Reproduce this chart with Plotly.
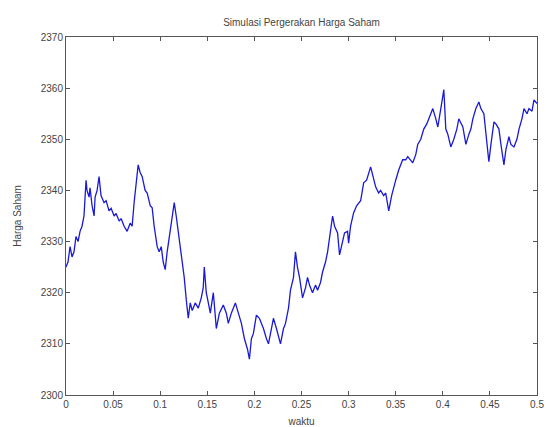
import plotly.graph_objects as go

# waktu (time) values
waktu = [
    0, 0.0021, 0.0043, 0.0064, 0.0085, 0.0106, 0.0128, 0.0149, 0.0170, 0.0191,
    0.0213, 0.0223, 0.0245, 0.0255, 0.0277, 0.0298, 0.0309, 0.0330, 0.0351, 0.0372,
    0.0404, 0.0426, 0.0457, 0.0479, 0.0511, 0.0532, 0.0564, 0.0585, 0.0617, 0.0649,
    0.0681, 0.0702, 0.0723, 0.0745, 0.0766, 0.0787, 0.0809, 0.0840, 0.0862, 0.0894,
    0.0915, 0.0936, 0.0968, 0.0989, 0.1011, 0.1032, 0.1053, 0.1074, 0.1106, 0.1128,
    0.1149, 0.1170, 0.1191, 0.1223, 0.1255, 0.1277, 0.1298, 0.1319, 0.1340, 0.1372,
    0.1404, 0.1436, 0.1457, 0.1468, 0.1489, 0.1511, 0.1532, 0.1564, 0.1596, 0.1628,
    0.1670, 0.1702, 0.1723, 0.1755, 0.1798, 0.1830, 0.1862, 0.1894, 0.1926, 0.1947,
    0.1968, 0.1989, 0.2021, 0.2053, 0.2096, 0.2128, 0.2149, 0.2181, 0.2202, 0.2234,
    0.2277, 0.2309, 0.2330, 0.2362, 0.2383, 0.2415, 0.2436, 0.2457, 0.2479, 0.2511,
    0.2543, 0.2564, 0.2585, 0.2617, 0.2649, 0.2670, 0.2702, 0.2723, 0.2755, 0.2777,
    0.2809, 0.2830, 0.2851, 0.2883, 0.2904, 0.2936, 0.2957, 0.2989, 0.3000, 0.3021,
    0.3053, 0.3085, 0.3128, 0.3160, 0.3191, 0.3234, 0.3266, 0.3287, 0.3319, 0.3340,
    0.3372, 0.3394, 0.3426, 0.3457, 0.3500, 0.3532, 0.3574, 0.3606, 0.3628, 0.3660,
    0.3681, 0.3713, 0.3734, 0.3766, 0.3798, 0.3830, 0.3851, 0.3872, 0.3894, 0.3926,
    0.3947, 0.3979, 0.4000, 0.4011, 0.4032, 0.4053, 0.4085, 0.4117, 0.4149, 0.4170,
    0.4213, 0.4245, 0.4277, 0.4298, 0.4319, 0.4351, 0.4383, 0.4404, 0.4436, 0.4457,
    0.4489, 0.4511, 0.4543, 0.4564, 0.4596, 0.4617, 0.4649, 0.4670, 0.4702, 0.4723,
    0.4755, 0.4787, 0.4809, 0.4840, 0.4862, 0.4894, 0.4915, 0.4947, 0.4968, 0.5000,
]

# harga saham (stock price) values
harga = [
    2325, 2326, 2329, 2327, 2328, 2331, 2330, 2332, 2333, 2335,
    2342, 2340, 2338.7, 2340.5, 2337, 2335, 2338.7, 2340, 2342.7, 2339,
    2337.6, 2338, 2336, 2336.5, 2335, 2335.5, 2334, 2334.5, 2333, 2332,
    2333.6, 2333, 2337.6, 2341, 2345, 2343.5, 2342.7, 2340, 2339.5, 2337,
    2336.6, 2333, 2329, 2328, 2329, 2326, 2324.5, 2328, 2332, 2334,
    2337.6, 2335, 2332, 2328, 2323, 2318.6, 2315, 2318, 2316.5, 2318,
    2317, 2319, 2321, 2325, 2320, 2318, 2316, 2320, 2313, 2316,
    2317.6, 2316, 2314, 2316, 2318, 2316, 2314, 2311, 2309, 2307,
    2311, 2312, 2315.6, 2315, 2313, 2311, 2310, 2313, 2315, 2313,
    2310, 2313, 2314, 2317, 2320.5, 2323, 2328, 2325, 2323, 2319,
    2321, 2323, 2321.5, 2320, 2321.5, 2320.5, 2322, 2324, 2326, 2328,
    2332, 2335, 2333, 2331.7, 2327.4, 2330, 2331.7, 2332, 2329.7, 2333,
    2335.6, 2337, 2338, 2341.5, 2342, 2344.6, 2342.5, 2340.7, 2339.5, 2340,
    2339, 2339.5, 2336, 2339, 2342, 2344, 2346, 2346, 2346.6, 2346,
    2345.4, 2347, 2349, 2350, 2352, 2353, 2354, 2355, 2356, 2354,
    2352.4, 2356, 2358, 2359.7, 2352, 2351, 2348.5, 2350, 2352, 2354,
    2352.4, 2349, 2351, 2352, 2354, 2356, 2357.3, 2356, 2355, 2351,
    2345.6, 2349, 2353.4, 2353, 2352, 2349, 2345, 2348, 2350.5, 2349,
    2348.5, 2350, 2352, 2354, 2356, 2355, 2356, 2355.5, 2357.7, 2357,
]

x_ticks = [0, 0.05, 0.1, 0.15, 0.2, 0.25, 0.3, 0.35, 0.4, 0.45, 0.5]
x_tick_labels = ["0", "0.05", "0.1", "0.15", "0.2", "0.25", "0.3", "0.35", "0.4", "0.45", "0.5"]
y_ticks = [2300, 2310, 2320, 2330, 2340, 2350, 2360, 2370]

font_family = "Liberation Sans, Arial, sans-serif"
text_color = "#444444"
axis_color = "#555555"

W, H = 546, 427

fig = go.Figure()
fig.add_trace(go.Scatter(
    x=waktu, y=harga, mode="lines",
    line=dict(color="rgb(25,25,215)", width=1.3),
    showlegend=False, hoverinfo="skip",
))

fig.update_layout(
    width=W, height=H,
    margin=dict(l=66, r=9, t=37, b=32),
    paper_bgcolor="white", plot_bgcolor="white",
    hovermode=False,
    font=dict(family=font_family, size=10, color=text_color),
    title=dict(
        text="Simulasi Pergerakan Harga Saham",
        x=301.5 / W, xanchor="center",
        y=1 - 22 / H, yanchor="middle", yref="container",
        font=dict(size=10, color=text_color, family=font_family),
    ),
)
fig.update_xaxes(
    range=[0, 0.5], tickvals=x_ticks, ticktext=x_tick_labels,
    automargin=False,
    showgrid=False, zeroline=False,
    showline=True, linecolor=axis_color, linewidth=1, mirror="ticks",
    ticks="inside", ticklen=4, tickcolor=axis_color,
    tickfont=dict(size=10, color=text_color),
    title=dict(text="waktu", standoff=16, font=dict(size=10, color=text_color)),
)
fig.update_yaxes(
    range=[2300, 2370], tickvals=y_ticks,
    automargin=False,
    showgrid=False, zeroline=False,
    showline=True, linecolor=axis_color, linewidth=1, mirror="ticks",
    ticks="inside", ticklen=4, tickcolor=axis_color,
    tickfont=dict(size=10, color=text_color),
    title=dict(text="Harga Saham", standoff=17, font=dict(size=10, color=text_color)),
)

fig.write_html(
    "out.html",
    config={"displayModeBar": False},
    post_script="document.body.style.margin='0';document.documentElement.style.overflow='hidden';",
)
